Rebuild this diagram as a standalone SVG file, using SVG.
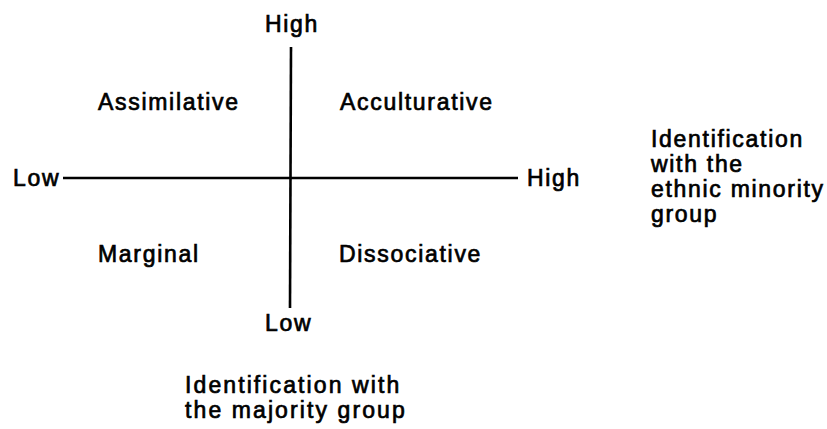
<svg xmlns="http://www.w3.org/2000/svg" width="827" height="429" viewBox="0 0 827 429">
  <style>
    .lbl { font-family: "Liberation Sans", Arial, sans-serif; font-size: 23px; letter-spacing: 1.7px; fill: #000; stroke: #000; stroke-width: 0.7px; }
    .wide { letter-spacing: 2.1px; }
    .axis { stroke: #000; stroke-width: 2.6; fill: none; }
  </style>
  <rect width="827" height="429" fill="#fff"/>

  <!-- axes -->
  <g id="connectors">
    <line class="axis" x1="291" y1="47" x2="290" y2="308"/>
    <line class="axis" x1="63" y1="178" x2="518" y2="178"/>
  </g>

  <!-- axis end labels -->
  <g id="axis-top"><text class="lbl" x="265" y="32">High</text></g>
  <g id="axis-bottom"><text class="lbl" x="265" y="331">Low</text></g>
  <g id="axis-left"><text class="lbl" x="13" y="186">Low</text></g>
  <g id="axis-right"><text class="lbl" x="527" y="186">High</text></g>

  <!-- quadrants -->
  <g id="q-assimilative"><text class="lbl" x="98" y="110">Assimilative</text></g>
  <g id="q-acculturative"><text class="lbl" x="340" y="110">Acculturative</text></g>
  <g id="q-marginal"><text class="lbl" x="98" y="262">Marginal</text></g>
  <g id="q-dissociative"><text class="lbl" x="339" y="262">Dissociative</text></g>

  <!-- axis titles -->
  <g id="title-minority">
    <text class="lbl" x="651" y="147">Identification</text>
    <text class="lbl" x="651" y="172">with the</text>
    <text class="lbl" x="651" y="197">ethnic minority</text>
    <text class="lbl" x="651" y="222">group</text>
  </g>
  <g id="title-majority">
    <text class="lbl wide" x="185" y="393">Identification with</text>
    <text class="lbl wide" x="185" y="418">the majority group</text>
  </g>
</svg>
